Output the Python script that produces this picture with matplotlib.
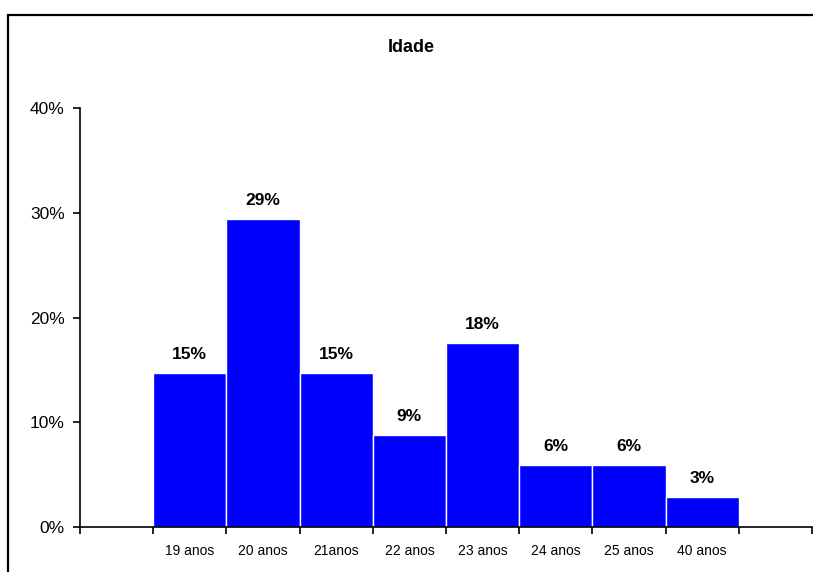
import matplotlib
matplotlib.use("Agg")
import matplotlib.pyplot as plt
from matplotlib.patches import Rectangle
from matplotlib.ticker import FuncFormatter, FixedLocator

plt.rcParams['font.family'] = ['Liberation Sans', 'DejaVu Sans']

# Age distribution (share of respondents, %)
categories = ['19 anos', '20 anos', '21anos', '22 anos', '23 anos', '24 anos', '25 anos', '40 anos']
shares = [14.7, 29.4, 14.7, 8.8, 17.6, 5.9, 5.9, 2.9]
value_labels = ['15%', '29%', '15%', '9%', '18%', '6%', '6%', '3%']
y_ticks = [0, 10, 20, 30, 40]

W, H = 813, 572
fig = plt.figure(figsize=(W / 100, H / 100), dpi=100)
fig.patch.set_facecolor('white')

# outer chart frame
fig.patches.append(Rectangle((8 / W, -0.05), 1.2, (H - 15) / H + 0.05,
                             transform=fig.transFigure, fill=False,
                             edgecolor='black', linewidth=1.6))

ax = fig.add_axes([80 / W, (H - 527) / H, (812 - 80) / W, (527 - 108) / H])

n_slots = len(categories) + 2
positions = [i + 1.5 for i in range(len(categories))]
bars = ax.bar(positions, shares, width=1.0, color='#0000FF',
              edgecolor='white', linewidth=1.0)

for bar, lab in zip(bars, value_labels):
    ax.annotate(lab, (bar.get_x() + bar.get_width() / 2, bar.get_height()),
                xytext=(0, 8), textcoords='offset points',
                ha='center', va='bottom', fontsize=12.5, fontweight='bold')

ax.set_xlim(0, n_slots)
ax.set_ylim(0, 40)

ax.xaxis.set_major_locator(FixedLocator(list(range(n_slots + 1))))
ax.set_xticklabels([])
ax.xaxis.set_minor_locator(FixedLocator(positions))
ax.set_xticklabels(categories, minor=True, fontsize=10)
ax.tick_params(axis='x', which='major', direction='out', length=5, width=1.2)
ax.tick_params(axis='x', which='minor', length=0, pad=12)

ax.set_yticks(y_ticks)
ax.yaxis.set_major_formatter(FuncFormatter(lambda v, p: f'{int(v)}%'))
ax.tick_params(axis='y', direction='out', length=5, width=1.2, labelsize=12.5, pad=6)

for side in ('top', 'right'):
    ax.spines[side].set_visible(False)
for side in ('left', 'bottom'):
    ax.spines[side].set_linewidth(1.2)

fig.text(411 / W, (H - 48) / H, 'Idade', ha='center', va='center',
         fontsize=13, fontweight='bold')

fig.savefig('out.png', dpi=100)
